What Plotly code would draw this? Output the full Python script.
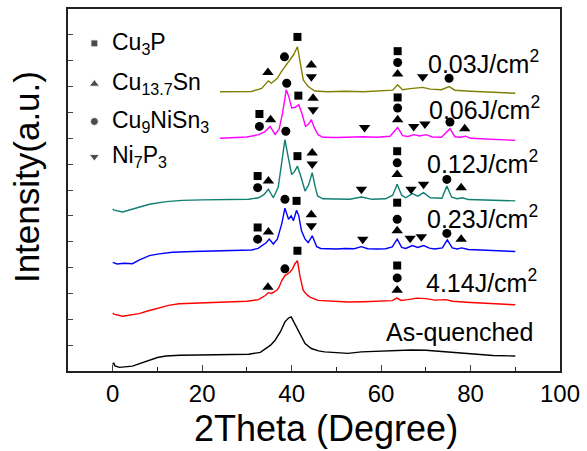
import plotly.graph_objects as go

FONT = "Liberation Sans, Arial, sans-serif"

# ---- XRD curves (2theta, offset intensity) ----
aq_x = [0, 0.2, 0.5, 1.5, 4.4, 6, 8.2, 10, 11.9, 15, 19.3, 25, 30.4, 33, 34.1, 35.3, 36.3, 37.5, 38.5, 39.3, 39.9, 40.7, 41.3, 41.9, 43, 44.4, 46, 47.4, 50, 52.6, 55.6, 60, 63, 66.7, 70, 74.1, 78, 81.5, 85, 90]
aq_y = [0.25, 0.32, 0.2, 0.14, 0.19, 0.28, 0.42, 0.52, 0.58, 0.61, 0.62, 0.63, 0.65, 0.72, 0.87, 1.0, 1.19, 1.52, 1.9, 2.05, 2.09, 1.83, 1.62, 1.38, 1.06, 0.87, 0.78, 0.74, 0.7, 0.68, 0.74, 0.77, 0.8, 0.81, 0.8, 0.74, 0.7, 0.64, 0.6, 0.58]

j414_x = [0, 0.3, 2.2, 5.9, 8, 10.4, 12.5, 14.8, 20, 26.7, 30, 32.6, 34.1, 34.8, 35.5, 36.7, 37.2, 37.8, 38.5, 39.6, 40.2, 40.7, 41.3, 41.9, 42.6, 43.3, 44.1, 45.9, 50, 52.6, 56, 60, 62.5, 63.5, 64.5, 66, 68, 70, 72, 74.5, 76, 80, 85, 90]
j414_y = [2.24, 2.2, 2.12, 2.22, 2.33, 2.45, 2.54, 2.6, 2.64, 2.67, 2.7, 2.76, 2.92, 3.03, 3.0, 3.12, 3.25, 3.5, 3.69, 3.82, 3.95, 4.14, 4.27, 3.63, 3.12, 2.97, 2.86, 2.73, 2.7, 2.67, 2.68, 2.7, 2.72, 2.82, 2.73, 2.76, 2.82, 2.8, 2.74, 2.76, 2.7, 2.65, 2.6, 2.56]

j023_x = [0, 1, 2.5, 4.4, 6, 8.2, 10, 13.3, 18, 22, 26.7, 31, 32.5, 33.3, 34.3, 35, 35.9, 36.8, 37.8, 38.5, 39.3, 39.9, 40.4, 41.1, 41.6, 42.2, 43, 43.7, 44.6, 45.6, 46.5, 48, 50, 52, 54, 55.6, 57, 59, 61, 62.5, 63.6, 64.6, 65.5, 67, 68.2, 69.5, 70.8, 72, 73.7, 74.8, 75.9, 77, 78, 79.5, 82, 85, 87, 90]
j023_y = [4.2, 4.14, 4.17, 4.15, 4.3, 4.46, 4.52, 4.59, 4.62, 4.64, 4.65, 4.68, 4.74, 4.85, 4.96, 5.1, 4.91, 5.1, 5.7, 6.3, 5.87, 6.0, 5.81, 6.22, 6.0, 5.42, 5.1, 4.97, 5.23, 4.81, 4.74, 4.73, 4.72, 4.74, 4.73, 4.81, 4.73, 4.72, 4.73, 4.8, 5.1, 4.78, 4.74, 4.85, 4.78, 4.85, 4.75, 4.72, 4.76, 5.07, 4.76, 4.72, 4.76, 4.7, 4.68, 4.66, 4.63, 4.62]

j012_x = [0, 0.3, 2.2, 5, 8.2, 12, 15.5, 20, 25, 30.4, 32.6, 33.8, 34.8, 35.9, 37, 37.8, 38.5, 39.2, 40, 40.6, 41.3, 42.1, 43, 43.8, 44.6, 45.3, 45.8, 47, 50, 53, 55.6, 58, 61, 62.6, 63.6, 64.6, 65.5, 67, 68.2, 69.5, 71, 73.6, 74.7, 75.8, 77, 78.2, 79.5, 82, 86, 90]
j012_y = [6.27, 6.22, 6.15, 6.3, 6.45, 6.55, 6.6, 6.62, 6.63, 6.64, 6.7, 6.82, 7.03, 6.7, 7.1, 8.0, 8.95, 8.3, 7.6, 7.7, 7.92, 7.5, 6.96, 7.2, 7.67, 7.1, 6.77, 6.66, 6.65, 6.64, 6.73, 6.64, 6.66, 6.8, 7.22, 6.8, 6.7, 6.86, 6.76, 6.9, 6.7, 6.68, 7.15, 6.72, 6.66, 6.7, 6.63, 6.62, 6.6, 6.58]

j006_x = [24, 27, 30, 32.6, 34, 35.2, 36.3, 37.2, 38, 38.8, 39.4, 40.0, 40.8, 41.6, 42.4, 43.1, 43.8, 44.4, 45.1, 45.9, 47, 50, 53, 56, 59, 62, 63.7, 64.8, 66, 67.4, 68.6, 70, 71.5, 73.5, 75.4, 76.5, 77.7, 78.9, 80, 84, 90]
j006_y = [9.0, 9.02, 9.05, 9.14, 9.25, 9.46, 9.15, 9.35, 10.0, 10.88, 10.6, 10.17, 10.2, 10.3, 9.9, 9.46, 9.55, 9.72, 9.4, 9.14, 9.04, 9.03, 9.04, 9.06, 9.04, 9.08, 9.42, 9.1, 9.07, 9.14, 9.09, 9.14, 9.05, 9.04, 9.37, 9.06, 9.04, 9.08, 9.0, 8.97, 8.92]

j003_x = [24, 28, 31, 33.3, 34.8, 35.5, 36.8, 37.7, 39.1, 40.4, 41.3, 41.9, 42.6, 43.7, 45.2, 48, 52, 56, 60, 62.6, 63.7, 64.8, 66.5, 69.3, 71, 73.5, 75.2, 76.5, 80, 85, 90]
j003_y = [10.8, 10.8, 10.81, 10.93, 11.22, 11.13, 11.32, 11.58, 11.9, 12.22, 12.54, 11.96, 11.26, 11.0, 10.83, 10.8, 10.82, 10.8, 10.83, 10.86, 11.07, 10.88, 10.92, 10.97, 10.9, 10.88, 11.0, 10.86, 10.82, 10.78, 10.74]

curves = [
    (aq_x, aq_y, "#000000"),
    (j414_x, j414_y, "#ff0000"),
    (j023_x, j023_y, "#0000ff"),
    (j012_x, j012_y, "#0f7f72"),
    (j006_x, j006_y, "#ff00ff"),
    (j003_x, j003_y, "#808000"),
]

# ---- curve labels ----
label_text = ["As-quenched", "4.14J/cm<sup>2</sup>", "0.23J/cm<sup>2</sup>",
              "0.12J/cm<sup>2</sup>", "0.06J/cm<sup>2</sup>", "0.03J/cm<sup>2</sup>"]
label_x = [60.6, 69.6, 69.8, 69.8, 70.2, 70.0]
label_y = [1.51, 3.5, 5.96, 8.09, 10.19, 11.95]

# ---- phase markers ----
cu3p_x = [41.3, 63.7, 32.8, 41.5, 63.7, 32.4, 41.3, 63.6, 32.4, 41.1, 63.6, 41.3, 63.6]
cu3p_y = [12.92, 12.37, 9.94, 10.65, 10.58, 7.54, 8.31, 8.5, 5.55, 6.58, 6.51, 4.65, 4.08]

cusn_x = [34.7, 44.4, 63.7, 35.3, 44.8, 63.7, 78.7, 34.8, 44.6, 63.6, 77.9, 34.8, 44.4, 63.6, 77.9, 34.7, 63.6]
cusn_y = [11.54, 11.83, 11.49, 9.72, 10.55, 9.72, 9.37, 7.35, 8.43, 7.6, 7.09, 5.38, 6.04, 5.42, 5.1, 3.24, 3.12]

cuni_x = [38.4, 63.7, 75.2, 32.8, 38.9, 63.7, 75.4, 32.4, 38.7, 63.6, 74.7, 32.4, 38.5, 63.6, 74.7, 38.5, 63.6]
cuni_y = [12.15, 11.93, 11.32, 9.46, 11.13, 10.17, 9.63, 7.09, 9.27, 8.05, 7.41, 5.1, 6.64, 5.87, 5.32, 3.95, 3.6]

nip_x = [44.4, 69.3, 44.8, 56.3, 67.3, 69.8, 44.6, 55.6, 66.7, 69.5, 44.4, 55.9, 66.5, 69.0]
nip_y = [11.38, 11.38, 10.1, 9.42, 9.46, 9.55, 8.01, 7.03, 7.03, 7.22, 5.62, 5.1, 5.13, 5.19]

phases = [
    (cu3p_x, cu3p_y, "square", 8),
    (cusn_x, cusn_y, "triangle-up", 10),
    (cuni_x, cuni_y, "circle", 9),
    (nip_x, nip_y, "triangle-down", 10),
]

# ---- legend ----
legend_names = ["Cu<sub>3</sub>P", "Cu<sub>13.7</sub>Sn", "Cu<sub>9</sub>NiSn<sub>3</sub>", "Ni<sub>7</sub>P<sub>3</sub>"]
legend_symbols = ["square", "triangle-up", "circle", "triangle-down"]
legend_mx = -4.1
legend_tx = -0.6
legend_y = [12.67, 11.1, 9.65, 8.29]

fig = go.Figure()
for x, y, c in curves:
    fig.add_trace(go.Scatter(x=x, y=y, mode="lines", line=dict(color=c, width=1.4),
                             showlegend=False, hoverinfo="skip"))
for x, y, s, sz in phases:
    fig.add_trace(go.Scatter(x=x, y=y, mode="markers",
                             marker=dict(symbol=s, size=sz, color="black"),
                             showlegend=False, hoverinfo="skip"))
fig.add_trace(go.Scatter(x=[legend_mx] * 4, y=legend_y, mode="markers",
                         marker=dict(symbol=legend_symbols, size=[7, 9, 8, 9], color="black"),
                         showlegend=False, hoverinfo="skip", cliponaxis=False))

for t, x, y in zip(label_text, label_x, label_y):
    fig.add_annotation(x=x, y=y, text=t, showarrow=False, xanchor="left", yanchor="middle",
                       font=dict(family=FONT, size=25, color="black"))
for t, y in zip(legend_names, legend_y):
    fig.add_annotation(x=legend_tx, y=y, text=t, showarrow=False, xanchor="left", yanchor="middle",
                       font=dict(family=FONT, size=23, color="black"))

# axis titles as annotations
fig.add_annotation(xref="paper", yref="paper", x=(329 - 68) / 498, y=(451 - 80 - 429) / 364,
                   text="2Theta (Degree)", showarrow=False, xanchor="center", yanchor="middle",
                   font=dict(family=FONT, size=36, color="black"))
fig.add_annotation(xref="paper", yref="paper", x=(26 - 68) / 498, y=(371 - 176.5) / 364,
                   text="Intensity(a.u.)", showarrow=False, textangle=-90,
                   xanchor="center", yanchor="middle",
                   font=dict(family=FONT, size=35, color="black"))

fig.update_layout(
    width=587, height=451,
    margin=dict(l=68, r=21, t=7, b=80),
    paper_bgcolor="white", plot_bgcolor="white",
    font=dict(family=FONT, color="black"),
    xaxis=dict(range=[-10, 100], dtick=20, tick0=0, ticks="inside", ticklen=6, tickwidth=1.3,
               showline=True, linecolor="#222", linewidth=1.5, mirror=True, showgrid=False,
               zeroline=False, tickfont=dict(size=24, family=FONT, color="black"),
               minor=dict(ticks="inside", ticklen=4, dtick=10, tick0=0, tickcolor="#222")),
    yaxis=dict(range=[0, 14], dtick=1, tick0=0, ticks="inside", ticklen=5, tickwidth=1.2,
               showticklabels=False, showline=True, linecolor="#222", linewidth=1.5,
               mirror=True, showgrid=False, zeroline=False),
)

fig.write_html("out.html", config={"displayModeBar": False},
               post_script="document.body.style.margin='0';document.body.style.overflow='hidden';")
